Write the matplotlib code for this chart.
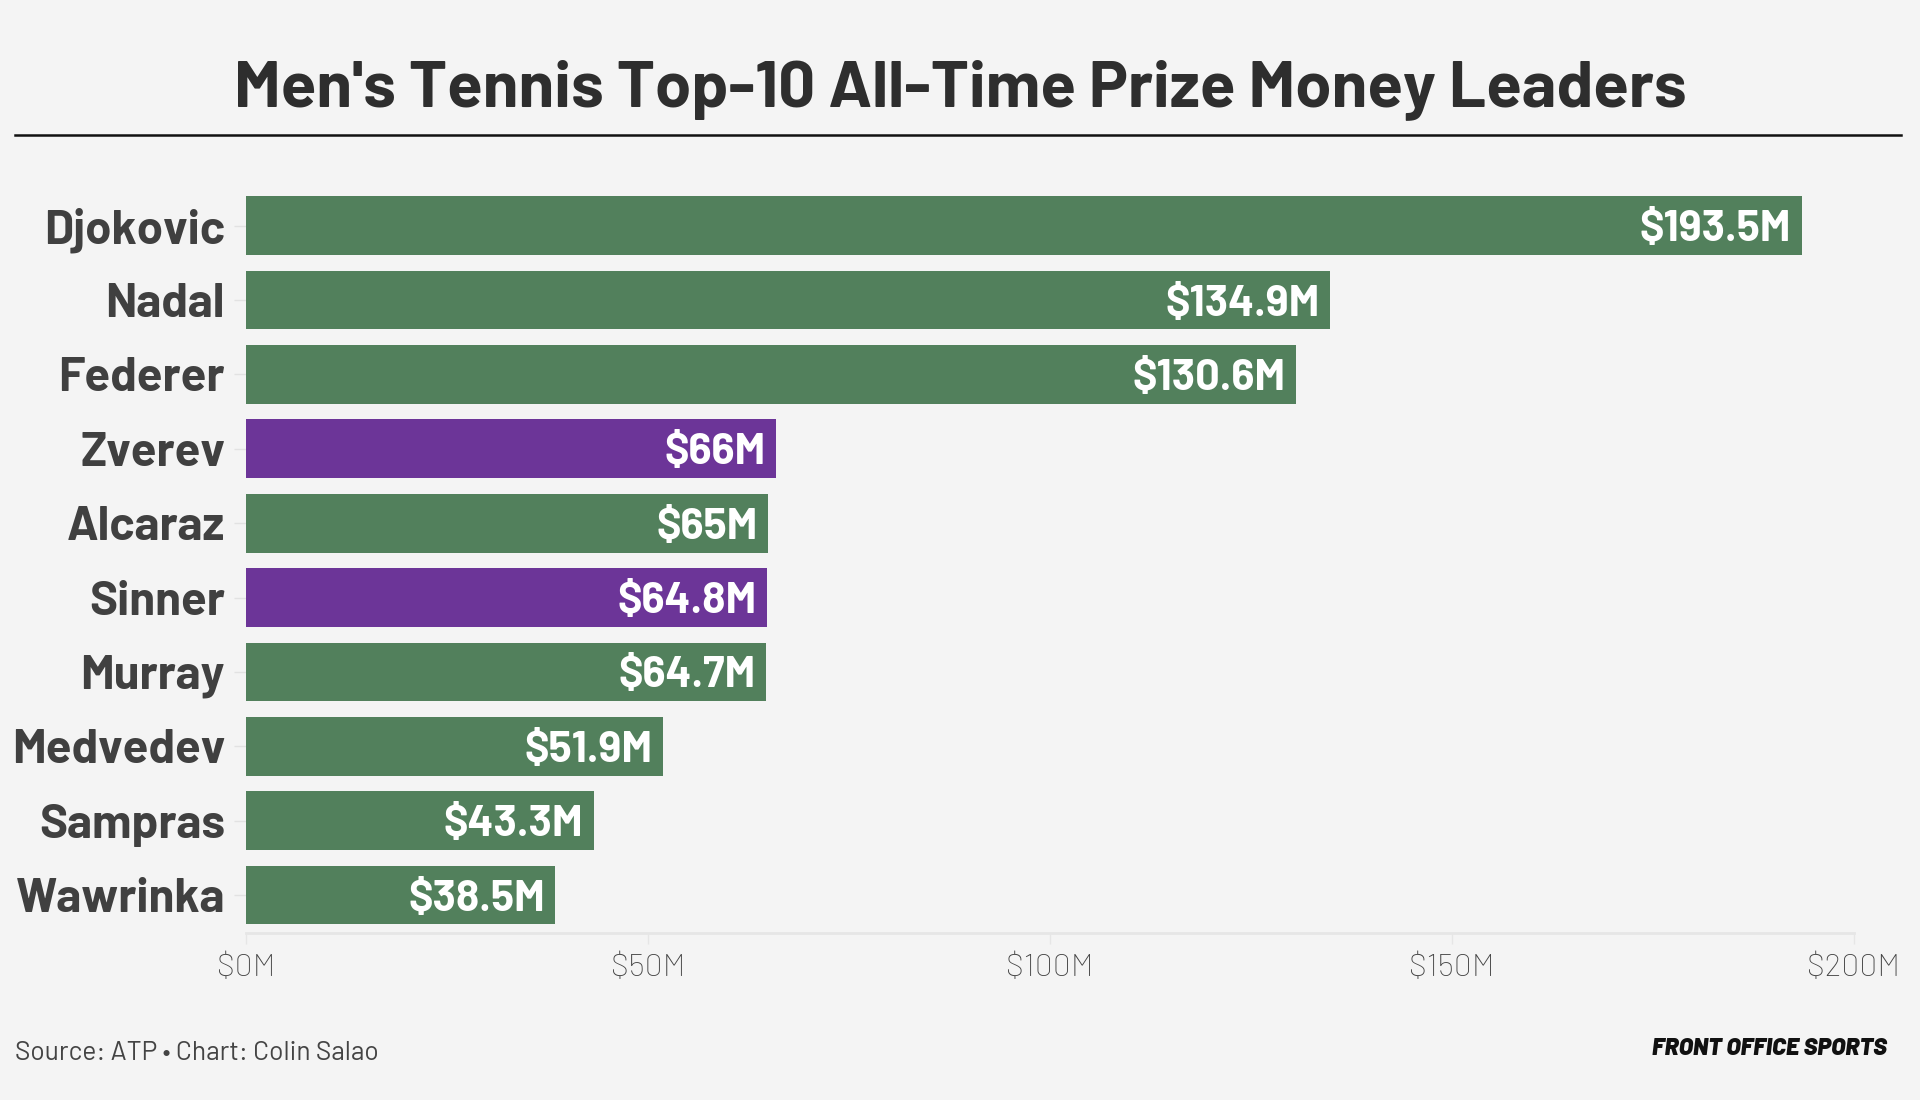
import matplotlib.pyplot as plt
from matplotlib import font_manager

# pick a narrow-ish font if one is around
names = {f.name for f in font_manager.fontManager.ttflist}
family = 'Roboto'
for cand in ['Barlow', 'Roboto Condensed', 'Liberation Sans Narrow']:
    if cand in names:
        family = cand
        break
plt.rcParams['font.family'] = [family, 'DejaVu Sans']

players = ['Djokovic', 'Nadal', 'Federer', 'Zverev', 'Alcaraz',
           'Sinner', 'Murray', 'Medvedev', 'Sampras', 'Wawrinka']
prize = [193.5, 134.9, 130.6, 66, 65, 64.8, 64.7, 51.9, 43.3, 38.5]
labels = ['$193.5M', '$134.9M', '$130.6M', '$66M', '$65M',
          '$64.8M', '$64.7M', '$51.9M', '$43.3M', '$38.5M']
highlight = ['Zverev', 'Sinner']
xticks = [0, 50, 100, 150, 200]
xtick_labels = ['$0M', '$50M', '$100M', '$150M', '$200M']

green = '#52805c'
purple = '#6c3598'
bg = '#f4f4f4'

fig = plt.figure(figsize=(19.2, 11), dpi=100, facecolor=bg)
ax = fig.add_axes([0.128, 0.1518, 0.8376, 0.6836])
ax.set_facecolor(bg)

colors = [purple if p in highlight else green for p in players]
ypos = range(len(players))
ax.barh(ypos, prize, height=0.79, color=colors, zorder=2)

for y, v, lab in zip(ypos, prize, labels):
    ax.text(v - 1.3, y, lab, ha='right', va='center_baseline', color='white',
            fontsize=31, fontweight='bold', zorder=3)

ax.set_ylim(9.51, -0.6)
ax.set_xlim(0, 200)
ax.set_yticks(list(ypos))
ax.set_yticklabels(players, fontsize=34, fontweight='bold', color='#404040')
ax.set_xticks(xticks)
ax.set_xticklabels(xtick_labels, fontsize=23, color='#444444', fontweight='light')
ax.tick_params(axis='y', length=9, width=1, color='#e2e2e2', pad=6)
ax.tick_params(axis='x', length=8, width=1, color='#e6e6e6', pad=7)

for s in ['top', 'right', 'left']:
    ax.spines[s].set_visible(False)
ax.spines['bottom'].set_color('#e6e6e6')
ax.spines['bottom'].set_linewidth(2)

# title and rule
fig.text(0.5, 0.919, "Men's Tennis Top-10 All-Time Prize Money Leaders",
         ha='center', va='center', fontsize=47, fontweight='bold', color='#2e2e2e')
fig.add_artist(plt.Line2D([0.008, 0.99], [0.877, 0.877], color='#111111', lw=1.8))

# footer
fig.text(0.008, 0.043, 'Source: ATP • Chart: Colin Salao', ha='left', va='center',
         fontsize=19, color='#444444')
fig.text(0.983, 0.047, 'FRONT OFFICE SPORTS', ha='right', va='center',
         fontsize=17, fontweight='black', fontstyle='italic', color='#111111')

fig.savefig('out.png', dpi=100, facecolor=bg)
